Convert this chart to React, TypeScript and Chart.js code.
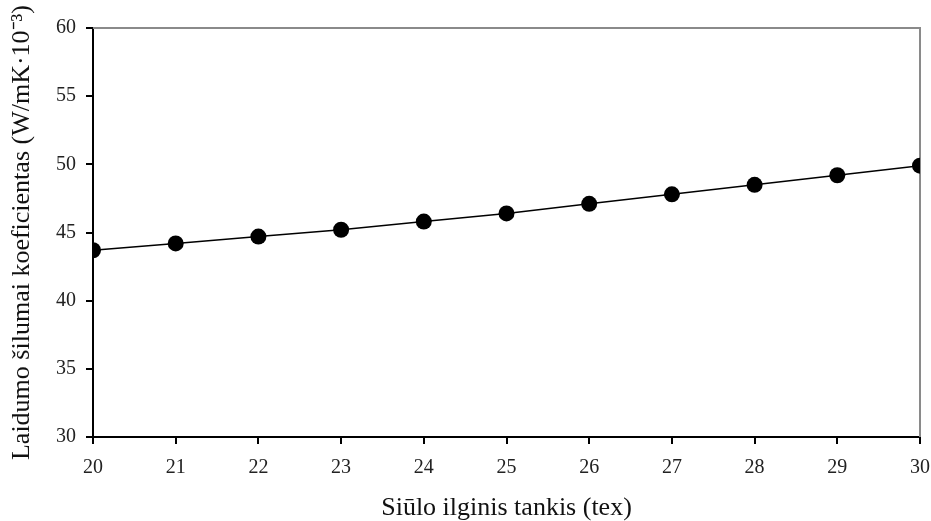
import React, { useEffect, useRef } from "react";
import { Chart, registerables } from "chart.js";

Chart.register(...registerables);

const xValues = [20, 21, 22, 23, 24, 25, 26, 27, 28, 29, 30];
const yValues = [43.7, 44.2, 44.7, 45.2, 45.8, 46.4, 47.1, 47.8, 48.5, 49.2, 49.9];
const xTitle = "Siūlo ilginis tankis (tex)";
const yTitle = "Laidumo šilumai koeficientas (W/mK·10⁻³)";

const FONT = "'Liberation Serif', 'Times New Roman', serif";

const frame = {
  id: "frame",
  beforeDatasetsDraw(chart: any) {
    const { ctx, chartArea } = chart;
    const { left, right, top, bottom } = chartArea;
    ctx.save();
    ctx.strokeStyle = "#8a8a8a";
    ctx.lineWidth = 2;
    ctx.beginPath();
    ctx.moveTo(left, top);
    ctx.lineTo(right, top);
    ctx.lineTo(right, bottom);
    ctx.stroke();
    ctx.restore();
  },
};

export default function App() {
  const ref = useRef<HTMLCanvasElement | null>(null);
  useEffect(() => {
    if (!ref.current) return;
    const chart = new Chart(ref.current, {
      type: "scatter",
      data: {
        datasets: [
          {
            data: xValues.map((x, i) => ({ x, y: yValues[i] })),
            showLine: true,
            borderColor: "#000",
            borderWidth: 1.5,
            backgroundColor: "#000",
            pointBackgroundColor: "#000",
            pointBorderColor: "#000",
            pointRadius: 8,
            pointBorderWidth: 0,
          },
        ],
      },
      plugins: [frame],
      options: {
        animation: false,
        responsive: false,
        maintainAspectRatio: false,
        layout: { padding: { left: 0, right: 0, top: 28, bottom: 0 } },
        plugins: {
          legend: { display: false },
          tooltip: { enabled: false },
        },
        scales: {
          x: {
            type: "linear",
            min: 20,
            max: 30,
            afterFit: (s: any) => {
              s.height = 84;
              s.paddingRight = 11;
              s.paddingLeft = 0;
            },
            ticks: {
              stepSize: 1,
              color: "#222",
              padding: 12,
              font: { family: FONT, size: 20 },
            },
            grid: {
              drawOnChartArea: false,
              drawTicks: true,
              tickLength: 7,
              color: "#000",
              lineWidth: 2,
            },
            border: { display: true, color: "#000", width: 2 },
            title: {
              display: true,
              text: xTitle,
              color: "#111",
              font: { family: FONT, size: 26, lineHeight: 1.0 },
              padding: { top: 0, bottom: 0 },
            },
          },
          y: {
            type: "linear",
            min: 30,
            max: 60,
            afterFit: (s: any) => {
              s.width = 93;
            },
            ticks: {
              stepSize: 5,
              color: "#222",
              padding: 10,
              font: { family: FONT, size: 20 },
            },
            grid: {
              drawOnChartArea: false,
              drawTicks: true,
              tickLength: 7,
              color: "#000",
              lineWidth: 2,
            },
            border: { display: true, color: "#000", width: 2 },
            title: {
              display: true,
              text: yTitle,
              color: "#111",
              font: { family: FONT, size: 26, lineHeight: 1.0 },
              padding: { top: 9, bottom: 0 },
            },
          },
        },
      },
    });
    return () => chart.destroy();
  }, []);
  return (
    <div style={{ position: "fixed", left: 0, top: 0, width: 931, height: 521, background: "#fff" }}>
      <canvas ref={ref} width={931} height={521} />
    </div>
  );
}
